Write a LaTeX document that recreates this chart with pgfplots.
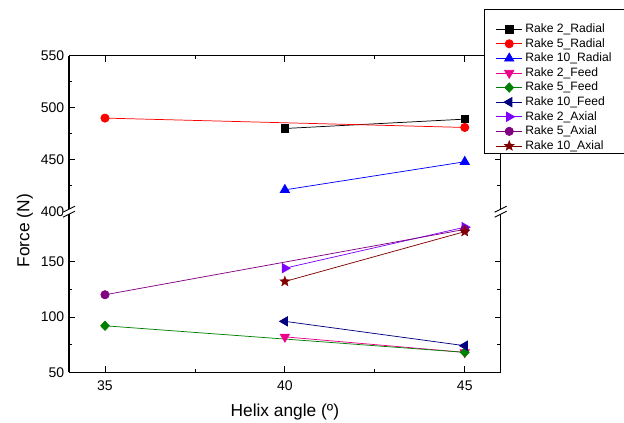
\documentclass[border=0pt]{standalone}
\usepackage{fontspec}
\setmainfont{Liberation Sans}
\usepackage{pgfplots}
\pgfplotsset{compat=1.18}
\definecolor{cgreen}{RGB}{0,128,0}
\definecolor{cnavy}{RGB}{0,0,128}
\definecolor{cviolet}{RGB}{128,0,255}
\definecolor{cpurple}{RGB}{128,0,128}
\definecolor{cdred}{RGB}{128,0,0}
\pgfdeclareplotmark{fstar}{%
  \pgfpathmoveto{\pgfpointpolar{90}{\pgfplotmarksize}}%
  \pgfpathlineto{\pgfpointpolar{126}{0.42\pgfplotmarksize}}%
  \pgfpathlineto{\pgfpointpolar{162}{\pgfplotmarksize}}%
  \pgfpathlineto{\pgfpointpolar{198}{0.42\pgfplotmarksize}}%
  \pgfpathlineto{\pgfpointpolar{234}{\pgfplotmarksize}}%
  \pgfpathlineto{\pgfpointpolar{270}{0.42\pgfplotmarksize}}%
  \pgfpathlineto{\pgfpointpolar{306}{\pgfplotmarksize}}%
  \pgfpathlineto{\pgfpointpolar{342}{0.42\pgfplotmarksize}}%
  \pgfpathlineto{\pgfpointpolar{18}{\pgfplotmarksize}}%
  \pgfpathlineto{\pgfpointpolar{54}{0.42\pgfplotmarksize}}%
  \pgfpathclose
  \pgfusepathqfillstroke
}
\begin{document}
\begin{tikzpicture}
\path[use as bounding box] (0pt,0pt) rectangle (468pt,317.25pt);
\pgfplotsset{
  common/.style={
    scale only axis, width=323.8pt,
    xmin=34, xmax=46, xtick={35,40,45}, minor x tick num=1,
    axis y line*=box, yticklabel pos=left,
    axis line style={-, black, line width=0.8pt},
    tick style={black, line width=0.6pt},
    major tick length=4.5pt, minor tick length=2.6pt,
    tick align=inside,
    /pgf/number format/assume math mode=true,
    ticklabel style={font=\fontsize{10.5}{12}\selectfont},
    xticklabel style={yshift=-3pt},
    label style={font=\fontsize{13}{15}\selectfont},
    every axis plot/.append style={line width=0.55pt},
    clip=false,
  },
  legend image code/.code={%
    \draw[mark repeat=2,mark phase=2] plot coordinates {(0pt,0pt)(9.75pt,0pt)(19.5pt,0pt)};%
  },
  mS/.style={mark=square*, mark size=2.75pt},
  mC/.style={mark=*, mark size=3.1pt},
  mTu/.style={mark=triangle*, mark size=4pt},
  mTd/.style={mark=triangle*, mark size=4pt, mark options={rotate=180}},
  mTl/.style={mark=triangle*, mark size=4pt, mark options={rotate=90}},
  mTr/.style={mark=triangle*, mark size=4pt, mark options={rotate=-90}},
  mD/.style={mark=diamond*, mark size=3.5pt, mark options={xscale=1.25}},
  mSt/.style={mark=fstar, mark size=4pt, mark options={line width=0.3pt}},
}
% lower axis
\begin{axis}[common, at={(51.75pt,38.025pt)}, anchor=south west, height=120.45pt,
  ymin=50, ymax=195, ytick={50,100,150}, minor y tick num=1,
  axis x line*=bottom,
  xlabel={Helix angle (º)}, ylabel={Force (N)},
  xlabel style={at={(axis description cs:0.5,-0.245)}, anchor=center},
  ylabel style={at={(axis description cs:-0.102,0.882)}, anchor=center},
]
\addplot[magenta, mTd] coordinates {(40,82) (45,68)};
\addplot[cgreen, mD] coordinates {(35,92) (45,68)};
\addplot[cnavy, mTl] coordinates {(40,96) (45,74)};
\addplot[cviolet, mTr] coordinates {(40,144) (45,181)};
\addplot[cpurple, mC] coordinates {(35,120) (45,179)};
\addplot[cdred, mSt] coordinates {(40,132) (45,177)};
\end{axis}
% upper axis
\begin{axis}[common, at={(51.75pt,158.475pt)}, anchor=south west, height=117pt,
  ymin=400, ymax=550, ytick={400,450,500,550}, minor y tick num=1,
  axis x line*=top, xticklabels={},
  legend cell align=left,
  legend style={at={(0.9625,1.236)}, anchor=north west, draw=none, fill=none,
    font=\fontsize{9.1}{10.5}\selectfont, inner xsep=8.3pt, inner ysep=1.5pt, row sep=-1.15pt},
]
% legend frame
\draw[black, line width=0.6pt, fill=white] (rel axis cs:0.9625,0.376) rectangle (rel axis cs:1.3167,1.299);
\addplot[black, mS] coordinates {(40,480) (45,489)};
\addplot[red, mC] coordinates {(35,490) (45,481)};
\addplot[blue, mTu] coordinates {(40,421) (45,448)};
\addlegendentry{Rake 2\_Radial}
\addlegendentry{Rake 5\_Radial}
\addlegendentry{Rake 10\_Radial}
\addlegendimage{magenta, line width=0.55pt, mTd}
\addlegendentry{Rake 2\_Feed}
\addlegendimage{cgreen, line width=0.55pt, mD}
\addlegendentry{Rake 5\_Feed}
\addlegendimage{cnavy, line width=0.55pt, mTl}
\addlegendentry{Rake 10\_Feed}
\addlegendimage{cviolet, line width=0.55pt, mTr}
\addlegendentry{Rake 2\_Axial}
\addlegendimage{cpurple, line width=0.55pt, mC}
\addlegendentry{Rake 5\_Axial}
\addlegendimage{cdred, line width=0.55pt, mSt}
\addlegendentry{Rake 10\_Axial}
\end{axis}
% axis break marks
\foreach \cx in {51.75pt,375.525pt}{
  \fill[white] ([xshift=-4.5pt,yshift=-4.125pt]\cx,158.475pt) -- ([xshift=4.5pt,yshift=0.375pt]\cx,158.475pt) -- ([xshift=4.5pt,yshift=4.125pt]\cx,158.475pt) -- ([xshift=-4.5pt,yshift=-0.375pt]\cx,158.475pt) -- cycle;
  \draw[black, line width=0.7pt] ([xshift=-4.5pt,yshift=-4.125pt]\cx,158.475pt) -- ([xshift=4.5pt,yshift=0.375pt]\cx,158.475pt);
  \draw[black, line width=0.7pt] ([xshift=-4.5pt,yshift=-0.375pt]\cx,158.475pt) -- ([xshift=4.5pt,yshift=4.125pt]\cx,158.475pt);
}
\end{tikzpicture}
\end{document}
